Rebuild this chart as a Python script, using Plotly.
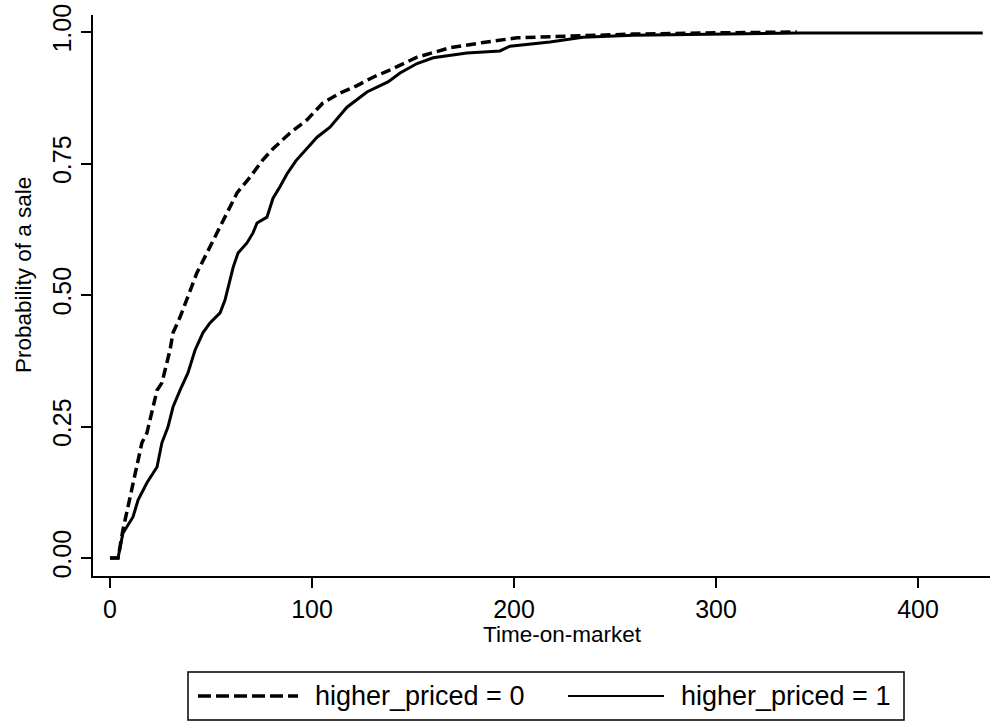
import plotly.graph_objects as go

# ---- data ----
t_group0 = [0, 4, 6.4, 9.9, 11.4, 13.9, 15.8, 18.3, 20.8, 23.3, 25.7, 29.7, 31.2, 34.7, 38.1,
            43, 48, 53, 58, 62.9, 69.3, 75.7, 80.7, 89.1, 97.5, 105.4, 113.9, 122.3, 130.2,
            137.6, 152, 168.3, 184.7, 201.5, 226, 259, 292, 340]
p_group0 = [0, 0, 0.053, 0.116, 0.143, 0.186, 0.219, 0.238, 0.276, 0.319, 0.333, 0.395, 0.428,
            0.458, 0.492, 0.542, 0.58, 0.618, 0.655, 0.694, 0.724, 0.757, 0.778, 0.808, 0.833,
            0.865, 0.884, 0.898, 0.914, 0.926, 0.952, 0.970, 0.980, 0.989, 0.992, 0.996, 0.998, 1.0]

t_group1 = [0, 4, 6.4, 11.4, 13.9, 18.3, 23.3, 25.7, 28.7, 31.2, 34.7, 38.6, 42.1, 46, 49.5,
            54.5, 56.9, 61, 63.4, 67.8, 70.8, 72.8, 77.7, 80.7, 84, 87.6, 92, 97.5, 102.5,
            108.9, 117.3, 127.2, 137.6, 143.6, 152, 160, 176.7, 193, 198, 217.8, 234, 259,
            341.6, 432]
p_group1 = [0, 0, 0.047, 0.078, 0.11, 0.143, 0.173, 0.219, 0.249, 0.287, 0.319, 0.352, 0.395,
            0.428, 0.447, 0.466, 0.49, 0.553, 0.58, 0.599, 0.618, 0.637, 0.648, 0.684, 0.705,
            0.73, 0.755, 0.778, 0.80, 0.819, 0.857, 0.886, 0.905, 0.922, 0.94, 0.951, 0.960,
            0.964, 0.973, 0.981, 0.990, 0.994, 0.998, 0.998]

series_names = ["higher_priced = 0", "higher_priced = 1"]
x_ticks = [0, 100, 200, 300, 400]
y_ticks = [0.0, 0.25, 0.5, 0.75, 1.0]
x_title = "Time-on-market"
y_title = "Probability of a sale"

# ---- layout geometry (pixels) ----
W, H = 992, 724
ML, MR, MT, MB = 93, 2, 15, 148
PW, PH = W - ML - MR, H - MT - MB
FONT = "Liberation Sans, Arial, Helvetica, sans-serif"


def px(x):
    return (x - ML) / PW


def py(y):
    return (H - MB - y) / PH


fig = go.Figure()
fig.add_trace(go.Scatter(x=t_group0, y=p_group0, mode="lines", name=series_names[0],
                         line=dict(color="black", width=3.5, dash="10px,5px"),
                         showlegend=False))
fig.add_trace(go.Scatter(x=t_group1, y=p_group1, mode="lines", name=series_names[1],
                         line=dict(color="black", width=3),
                         showlegend=False))

fig.update_layout(
    width=W, height=H,
    margin=dict(l=ML, r=MR, t=MT, b=MB, pad=0),
    paper_bgcolor="white", plot_bgcolor="white",
    font=dict(family=FONT, color="black"),
    showlegend=False,
)
fig.update_xaxes(range=[-8.4, 435.6], tickvals=x_ticks, ticks="outside", ticklen=10,
                 tickwidth=2, tickcolor="black", showline=True, linecolor="black",
                 linewidth=2, showgrid=False, zeroline=False,
                 tickfont=dict(size=25, family=FONT))
fig.update_yaxes(range=[-0.0342, 1.0323], tickvals=y_ticks, tickformat=".2f",
                 ticks="outside", ticklen=10, tickwidth=2, tickcolor="black",
                 showline=True, linecolor="black", linewidth=2, showgrid=False,
                 zeroline=False, tickangle=-90, tickfont=dict(size=25, family=FONT))

# axis titles
fig.add_annotation(text=x_title, xref="paper", yref="paper", x=px(562), y=py(634),
                   xanchor="center", yanchor="middle", showarrow=False,
                   font=dict(size=22.5, family=FONT))
fig.add_annotation(text=y_title, xref="paper", yref="paper", x=px(23), y=py(275),
                   xanchor="center", yanchor="middle", showarrow=False, textangle=-90,
                   font=dict(size=22.5, family=FONT))

# legend (drawn manually to match the long line samples)
fig.add_shape(type="rect", xref="paper", yref="paper", x0=px(188), x1=px(904),
              y0=py(672), y1=py(720), line=dict(color="black", width=1.5),
              fillcolor="white")
fig.add_shape(type="line", xref="paper", yref="paper", x0=px(198), x1=px(298),
              y0=py(696), y1=py(696), line=dict(color="black", width=3.5, dash="13px,5px"))
fig.add_shape(type="line", xref="paper", yref="paper", x0=px(568), x1=px(664),
              y0=py(696), y1=py(696), line=dict(color="black", width=2))
fig.add_annotation(text=series_names[0], xref="paper", yref="paper", x=px(313), y=py(696),
                   xanchor="left", yanchor="middle", showarrow=False,
                   font=dict(size=27, family=FONT))
fig.add_annotation(text=series_names[1], xref="paper", yref="paper", x=px(679), y=py(696),
                   xanchor="left", yanchor="middle", showarrow=False,
                   font=dict(size=27, family=FONT))

fig.write_html("out.html")
